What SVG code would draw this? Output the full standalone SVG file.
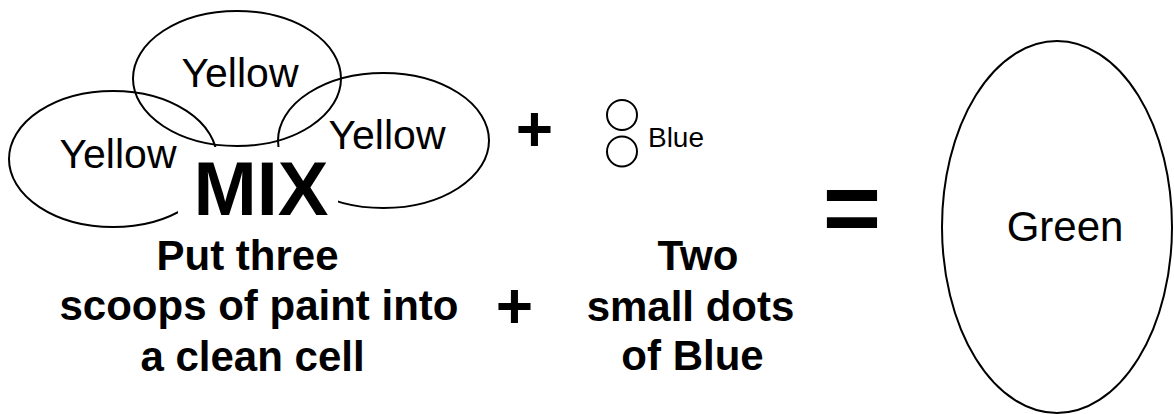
<svg xmlns="http://www.w3.org/2000/svg" width="1174" height="414" viewBox="0 0 1174 414">
<style>
.shape{fill:none;stroke:#000;stroke-width:2}
.lbl{font-family:"Liberation Sans",Arial,sans-serif;fill:#000;text-anchor:middle}
.big{font-weight:bold}
.cap{font-weight:bold;font-size:42px}
</style>
<rect x="0" y="0" width="1174" height="414" fill="#fff"/>
<g id="yellow-left">
<ellipse class="shape" cx="113" cy="159" rx="104" ry="68"/>
<text class="lbl" x="118" y="168" font-size="41">Yellow</text>
</g>
<g id="yellow-top">
<ellipse class="shape" cx="237" cy="78.5" rx="104" ry="67.5"/>
<text class="lbl" x="240" y="87" font-size="41">Yellow</text>
</g>
<g id="yellow-right">
<ellipse class="shape" cx="383.5" cy="140.5" rx="105.5" ry="67.5"/>
<text class="lbl" x="387" y="149" font-size="41">Yellow</text>
</g>
<g id="mix">
<rect x="178" y="147" width="160" height="80" fill="#fff"/>
<text class="lbl big" x="261" y="215" font-size="76">MIX</text>
</g>
<g id="plus-top">
<text class="lbl big" x="534.5" y="151" font-size="64">+</text>
</g>
<g id="blue-dots">
<circle class="shape" cx="622" cy="115" r="15"/>
<circle class="shape" cx="622" cy="151.5" r="15"/>
<text class="lbl" x="676" y="147" font-size="28">Blue</text>
</g>
<g id="equals">
<text class="lbl big" x="852" y="242" font-size="100">=</text>
</g>
<g id="green">
<ellipse class="shape" cx="1057" cy="227" rx="115" ry="186"/>
<text class="lbl" x="1065" y="241" font-size="42">Green</text>
</g>
<g id="yellow-caption">
<text class="lbl cap" x="247.5" y="270">Put three</text>
<text class="lbl cap" x="259" y="320">scoops of paint into</text>
<text class="lbl cap" x="252.5" y="371">a clean cell</text>
</g>
<g id="plus-bottom">
<text class="lbl big" x="514.5" y="328" font-size="64">+</text>
</g>
<g id="blue-caption">
<text class="lbl cap" x="698" y="270">Two</text>
<text class="lbl cap" x="690.5" y="321">small dots</text>
<text class="lbl cap" x="692.5" y="370">of Blue</text>
</g>
<g id="connectors"/>
</svg>
